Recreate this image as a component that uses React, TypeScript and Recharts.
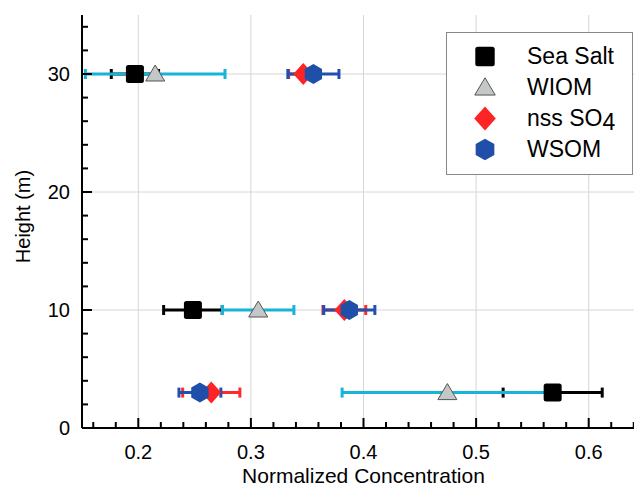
import { ScatterChart, Scatter, XAxis, YAxis, ErrorBar, ReferenceLine, Legend, Label } from "recharts"

// heights (m) shared by every series
const heights = [3, 10, 30]

const seaSalt = [0.568, 0.2485, 0.197]
const seaSaltErr = [0.044, 0.026, 0.021]
const wiom = [0.4745, 0.3065, 0.215]
const wiomErr = [0.0935, 0.0317, 0.062]
const nssSO4 = [0.2648, 0.383, 0.3465]
const nssSO4Err = [0.0254, 0.019, 0.013]
const wsom = [0.2547, 0.3874, 0.3555]
const wsomErr = [0.0186, 0.0227, 0.0227]

const xTicks = [0.16, 0.18, 0.2, 0.22, 0.24, 0.26, 0.28, 0.3, 0.32, 0.34, 0.36, 0.38, 0.4, 0.42, 0.44, 0.46, 0.48, 0.5, 0.52, 0.54, 0.56, 0.58, 0.6, 0.62, 0.64]
const xLabels = [0.2, 0.3, 0.4, 0.5, 0.6]
const yTicks = [0, 2, 4, 6, 8, 10, 12, 14, 16, 18, 20, 22, 24, 26, 28, 30, 32, 34]
const yLabels = [0, 10, 20, 30]

const FONT = '"Liberation Sans", Arial, sans-serif'

const toPoints = (xs: number[], errs: number[]) =>
  heights.map((h, i) => ({ x: xs[i], y: h, err: errs[i] }))

const isMajorX = (v: number) => xLabels.some((l) => Math.abs(l - v) < 1e-6)
const isMajorY = (v: number) => yLabels.includes(v)

// marker shapes
const SquareDot = ({ cx, cy, s = 1 }: any) => (
  <rect x={cx - 9 * s} y={cy - 9 * s} width={18 * s} height={18 * s} rx={2.5} fill="#000" />
)
const TriangleDot = ({ cx, cy, s = 1 }: any) => (
  <polygon
    points={`${cx},${cy - 9 * s} ${cx - 9.5 * s},${cy + 7 * s} ${cx + 9.5 * s},${cy + 7 * s}`}
    fill="#c3c7c7"
    stroke="#555"
    strokeWidth={1}
  />
)
const DiamondDot = ({ cx, cy, s = 1 }: any) => (
  <polygon
    points={`${cx},${cy - 11 * s} ${cx + 10 * s},${cy} ${cx},${cy + 11 * s} ${cx - 10 * s},${cy}`}
    fill="#ff2424"
  />
)
const HexDot = ({ cx, cy, s = 1 }: any) => {
  const r = 10 * s
  const pts = [-90, -30, 30, 90, 150, 210]
    .map((a) => `${cx + r * Math.cos((a * Math.PI) / 180)},${cy + r * Math.sin((a * Math.PI) / 180)}`)
    .join(" ")
  return <polygon points={pts} fill="#1f4fa8" />
}

const legendItems = [
  { name: "Sea Salt", Shape: SquareDot },
  { name: "WIOM", Shape: TriangleDot },
  { name: "nss SO", sub: "4", Shape: DiamondDot },
  { name: "WSOM", Shape: HexDot },
]

const LegendBox = () => (
  <div style={{ width: 185, height: 133, paddingTop: 8, border: "1px solid #888", background: "#fff", fontFamily: FONT }}>
    {legendItems.map(({ name, sub, Shape }) => (
      <div key={name} style={{ display: "flex", alignItems: "center", height: 31 }}>
        <svg width={78} height={31}>
          <Shape cx={38} cy={15.5} s={1.08} />
        </svg>
        <span style={{ marginLeft: 2, fontSize: 23, color: "#000", lineHeight: "31px" }}>
          {name}
          {sub && <span style={{ position: "relative", top: 4 }}>{sub}</span>}
        </span>
      </div>
    ))}
  </div>
)

const BottomTick = ({ x, y, payload }: any) => (
  <g>
    <line x1={x} x2={x} y1={y} y2={y - (isMajorX(payload.value) ? 10 : 6)} stroke="#000" strokeWidth={2} />
    {isMajorX(payload.value) && (
      <text x={x} y={y + 31} textAnchor="middle" fontSize={20} fontFamily={FONT} fill="#000">
        {payload.value.toFixed(1)}
      </text>
    )}
  </g>
)
const TopTick = ({ x, y, payload }: any) => (
  <line x1={x} x2={x} y1={y} y2={y + (isMajorX(payload.value) ? 10 : 6)} stroke="#000" strokeWidth={2} />
)
const LeftTick = ({ x, y, payload }: any) => (
  <g>
    <line x1={x} x2={x + (isMajorY(payload.value) ? 10 : 6)} y1={y} y2={y} stroke="#000" strokeWidth={2} />
    {isMajorY(payload.value) && (
      <text x={x - 12} y={y + 7} textAnchor="end" fontSize={20} fontFamily={FONT} fill="#000">
        {payload.value}
      </text>
    )}
  </g>
)
const RightTick = ({ x, y, payload }: any) => (
  <line x1={x} x2={x - (isMajorY(payload.value) ? 10 : 6)} y1={y} y2={y} stroke="#000" strokeWidth={2} />
)

const series = [
  { name: "Sea Salt", data: toPoints(seaSalt, seaSaltErr), Shape: SquareDot, bar: "#000000" },
  { name: "WIOM", data: toPoints(wiom, wiomErr), Shape: TriangleDot, bar: "#16b4d8" },
  { name: "nss SO4", data: toPoints(nssSO4, nssSO4Err), Shape: DiamondDot, bar: "#ff2a2a" },
  { name: "WSOM", data: toPoints(wsom, wsomErr), Shape: HexDot, bar: "#2150b0" },
]

export default function App() {
  const axisLine = { stroke: "#000", strokeWidth: 2 }
  return (
    <div style={{ width: 634, height: 479, overflow: "hidden", fontFamily: FONT }}>
      <ScatterChart width={650} height={479} margin={{ top: 7, right: 0, bottom: 0, left: 0 }}>
        <XAxis
          xAxisId="b"
          type="number"
          dataKey="x"
          domain={[0.15, 0.65]}
          allowDataOverflow
          ticks={xTicks}
          interval={0}
          height={59}
          tickSize={0}
          tickMargin={0}
          axisLine={axisLine}
          tickLine={false}
          tick={<BottomTick />}
        >
          <Label
            content={({ viewBox }: any) => (
              <text x={viewBox.x + viewBox.width / 2} y={viewBox.y + 55} textAnchor="middle" fontSize={21} fontFamily={FONT} fill="#000">
                Normalized Concentration
              </text>
            )}
          />
        </XAxis>
        <XAxis
          xAxisId="t"
          orientation="top"
          type="number"
          domain={[0.15, 0.65]}
          allowDataOverflow
          ticks={xTicks}
          interval={0}
          height={0}
          tickSize={0}
          tickMargin={0}
          axisLine={axisLine}
          tickLine={false}
          tick={<TopTick />}
        />
        <YAxis
          yAxisId="l"
          type="number"
          dataKey="y"
          domain={[0, 35]}
          allowDataOverflow
          ticks={yTicks}
          interval={0}
          width={74}
          tickSize={0}
          tickMargin={0}
          axisLine={axisLine}
          tickLine={false}
          tick={<LeftTick />}
        >
          <Label
            content={({ viewBox }: any) => {
              const cx = 15
              const cy = viewBox.y + viewBox.height / 2 - 5
              return (
                <text x={cx} y={cy} transform={`rotate(-90 ${cx} ${cy})`} textAnchor="middle" dominantBaseline="central" fontSize={20} fontFamily={FONT} fill="#000">
                  Height (m)
                </text>
              )
            }}
          />
        </YAxis>
        <YAxis
          yAxisId="r"
          orientation="right"
          type="number"
          domain={[0, 35]}
          allowDataOverflow
          ticks={yTicks}
          interval={0}
          width={13}
          tickSize={0}
          tickMargin={0}
          axisLine={false}
          tickLine={false}
          tick={<RightTick />}
        />

        {xLabels.map((v) => (
          <ReferenceLine key={`gx${v}`} x={v} xAxisId="b" yAxisId="l" stroke="#d6d6d6" strokeWidth={1} />
        ))}
        {yLabels.filter((v) => v > 0).map((v) => (
          <ReferenceLine key={`gy${v}`} y={v} xAxisId="b" yAxisId="l" stroke="#d6d6d6" strokeWidth={1} />
        ))}

        {series.map(({ name, data, Shape, bar }) => (
          <Scatter
            key={name}
            name={name}
            data={data}
            xAxisId="b"
            yAxisId="l"
            isAnimationActive={false}
            shape={(p: any) => <Shape cx={p.cx} cy={p.cy} />}
          >
            <ErrorBar dataKey="err" direction="x" width={5} strokeWidth={3} stroke={bar} />
          </Scatter>
        ))}

        <Legend
          layout="vertical"
          align="center"
          verticalAlign="middle"
          wrapperStyle={{ top: 24, left: 438, width: 187 }}
          content={() => <LegendBox />}
        />
      </ScatterChart>
    </div>
  )
}
